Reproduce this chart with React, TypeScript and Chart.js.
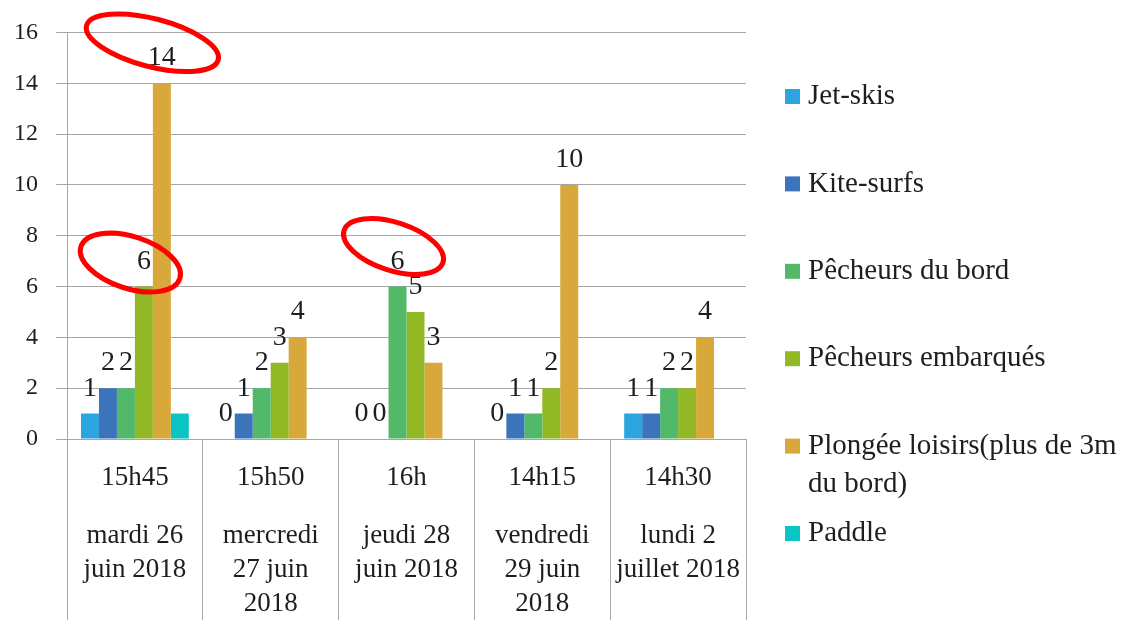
import { useEffect, useRef } from "react";
import { Chart, registerables } from "chart.js";
Chart.register(...registerables);

const times = ["15h45", "15h50", "16h", "14h15", "14h30"];
const dates = [
  ["mardi 26", "juin 2018"],
  ["mercredi", "27 juin", "2018"],
  ["jeudi 28", "juin 2018"],
  ["vendredi", "29 juin", "2018"],
  ["lundi 2", "juillet 2018"],
];
const seriesNames = [
  "Jet-skis",
  "Kite-surfs",
  "Pêcheurs du bord",
  "Pêcheurs embarqués",
  "Plongée loisirs(plus de 3m\ndu bord)",
  "Paddle",
];
const jetSkis = [1, 0, 0, 0, 1];
const kiteSurfs = [2, 1, 0, 1, 1];
const pecheursBord = [2, 2, 6, 1, 2];
const pecheursEmbarques = [6, 3, 5, 2, 2];
const plongee = [14, 4, 3, 10, 4];
const paddle = [1, null, null, null, null];
const yMin = 0;
const yMax = 16;
const yStep = 2;

const seriesColors = ["#2CA4DF", "#3C74BB", "#52B86A", "#93B826", "#D8A83A", "#0BC5C4"];
const showValues = [true, true, true, true, true, false];

// red hand-drawn highlight ellipses, anchored on a bar (dataset, index)
const highlights = [
  { ds: 4, idx: 0, dx: -9.5, dy: -40.5, rx: 68, ry: 24, rot: 14.5 },
  { ds: 3, idx: 0, dx: -13.5, dy: -24, rx: 52, ry: 26, rot: 18 },
  { ds: 2, idx: 2, dx: -4, dy: -40, rx: 52, ry: 24, rot: 18 },
];

const FONT = "'Liberation Serif', serif";
const GRID = "#A6A6A6";
const TEXT = "#1e1e1e";

const valuesPlugin = {
  id: "values",
  afterDatasetsDraw(chart: any) {
    const ctx = chart.ctx;
    ctx.save();
    ctx.font = `28px ${FONT}`;
    ctx.fillStyle = TEXT;
    ctx.textAlign = "center";
    ctx.textBaseline = "alphabetic";
    chart.data.datasets.forEach((ds: any, di: number) => {
      if (!showValues[di]) return;
      const meta = chart.getDatasetMeta(di);
      meta.data.forEach((bar: any, i: number) => {
        const v = ds.data[i];
        if (v === null || v === undefined) return;
        ctx.fillText(String(v), bar.x, bar.y - 18);
      });
    });
    ctx.strokeStyle = "#FF0000";
    ctx.lineWidth = 5;
    highlights.forEach((h) => {
      const bar = chart.getDatasetMeta(h.ds).data[h.idx];
      ctx.beginPath();
      ctx.ellipse(bar.x + h.dx, bar.y + h.dy, h.rx, h.ry, (h.rot * Math.PI) / 180, 0, Math.PI * 2);
      ctx.stroke();
    });
    ctx.restore();
  },
};

const xLabelsPlugin = {
  id: "xlabels",
  afterDraw(chart: any) {
    const ctx = chart.ctx;
    const xs = chart.scales.x;
    ctx.save();
    ctx.font = `27px ${FONT}`;
    ctx.fillStyle = TEXT;
    ctx.textAlign = "center";
    ctx.textBaseline = "middle";
    times.forEach((t, i) => {
      const x = xs.getPixelForValue(i);
      ctx.fillText(t, x, 478);
      dates[i].forEach((line, j) => {
        ctx.fillText(line, x, 536 + j * 34);
      });
    });
    ctx.restore();
  },
};

const legendPlugin = {
  id: "sideLegend",
  afterDraw(chart: any) {
    const ctx = chart.ctx;
    ctx.save();
    ctx.font = `29px ${FONT}`;
    ctx.textAlign = "left";
    ctx.textBaseline = "middle";
    chart.data.datasets.forEach((ds: any, i: number) => {
      const y = 96.5 + i * 87.4;
      ctx.fillStyle = ds.backgroundColor;
      ctx.fillRect(785, y - 7.5, 15, 15);
      ctx.fillStyle = TEXT;
      String(ds.label)
        .split("\n")
        .forEach((line, j) => ctx.fillText(line, 808, y + j * 38));
    });
    ctx.restore();
  },
};

export default function App() {
  const ref = useRef<HTMLCanvasElement>(null);
  useEffect(() => {
    document.body.style.margin = "0";
    const series = [jetSkis, kiteSurfs, pecheursBord, pecheursEmbarques, plongee, paddle];
    const chart = new Chart(ref.current!, {
      type: "bar",
      data: {
        labels: times,
        datasets: series.map((d, i) => ({
          label: seriesNames[i],
          data: d,
          backgroundColor: seriesColors[i],
          borderWidth: 0,
          barPercentage: 1,
          categoryPercentage: 0.794,
        })),
      },
      options: {
        responsive: false,
        animation: false,
        layout: { padding: { top: 31, right: 377, left: 0, bottom: 0 } },
        plugins: { legend: { display: false }, tooltip: { enabled: false } },
        scales: {
          x: {
            grid: { display: true, drawOnChartArea: false, color: GRID, tickLength: 181, offset: true },
            border: { display: true, color: GRID },
            ticks: { display: false },
            afterFit: (s: any) => {
              s.height = 181;
            },
          },
          y: {
            min: yMin,
            max: yMax,
            ticks: { stepSize: yStep, padding: 18, color: TEXT, font: { family: FONT, size: 24 } },
            grid: { color: GRID, tickLength: 11 },
            border: { display: true, color: GRID },
            afterFit: (s: any) => {
              s.width = 67;
            },
          },
        },
      },
      plugins: [valuesPlugin, xLabelsPlugin, legendPlugin],
    });
    return () => chart.destroy();
  }, []);
  return (
    <div style={{ width: 1123, height: 620, background: "#fff" }}>
      <canvas ref={ref} width={1123} height={620} />
    </div>
  );
}
